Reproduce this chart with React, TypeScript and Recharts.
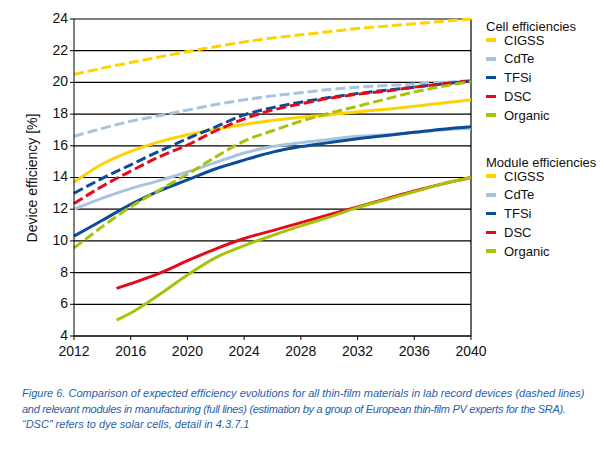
import React from 'react';
import { LineChart, Line, XAxis, YAxis, CartesianGrid, ReferenceLine } from 'recharts';

const years = [2012, 2014, 2016, 2018, 2020, 2022, 2024, 2026, 2028, 2030, 2032, 2034, 2036, 2038, 2040];
const lateYears = [2015, 2016, 2018, 2020, 2022, 2024, 2026, 2028, 2030, 2032, 2034, 2036, 2038, 2040];

// lab record cells (dashed)
const cellCIGSS = [20.5, 20.9, 21.25, 21.6, 21.95, 22.25, 22.55, 22.8, 23.0, 23.2, 23.4, 23.55, 23.7, 23.85, 24.0];
const cellCdTe = [16.6, 17.1, 17.55, 17.9, 18.25, 18.6, 18.9, 19.15, 19.35, 19.55, 19.7, 19.8, 19.9, 20.0, 20.1];
const cellTFSi = [13.0, 13.95, 14.8, 15.65, 16.45, 17.2, 17.95, 18.4, 18.75, 19.05, 19.3, 19.5, 19.7, 19.9, 20.1];
const cellDSC = [12.35, 13.45, 14.4, 15.3, 16.05, 16.95, 17.7, 18.25, 18.65, 19.0, 19.25, 19.45, 19.7, 19.9, 20.1];
const cellOrganic = [9.55, 10.9, 12.15, 13.2, 14.2, 15.3, 16.3, 16.95, 17.55, 18.05, 18.5, 18.95, 19.4, 19.75, 20.05];

// modules in manufacturing (full)
const modCIGSS = [13.7, 14.85, 15.65, 16.25, 16.7, 17.05, 17.35, 17.6, 17.8, 17.95, 18.15, 18.3, 18.5, 18.7, 18.9];
const modCdTe = [12.0, 12.7, 13.3, 13.8, 14.35, 14.95, 15.55, 15.95, 16.2, 16.4, 16.6, 16.7, 16.85, 17.0, 17.1];
const modTFSi = [10.3, 11.3, 12.3, 13.15, 13.85, 14.55, 15.1, 15.6, 15.95, 16.2, 16.45, 16.65, 16.85, 17.05, 17.2];
const modDSC = [7.0, 7.3, 7.95, 8.75, 9.5, 10.15, 10.65, 11.15, 11.65, 12.15, 12.65, 13.15, 13.6, 14.0];
const modOrganic = [5.0, 5.45, 6.6, 7.85, 8.95, 9.7, 10.35, 10.95, 11.5, 12.1, 12.6, 13.1, 13.6, 14.0];

const xTicks = [2012, 2016, 2020, 2024, 2028, 2032, 2036, 2040];
const yTicks = [4, 6, 8, 10, 12, 14, 16, 18, 20, 22, 24];

const materials = ['CIGSS', 'CdTe', 'TFSi', 'DSC', 'Organic'];
const colors = ['#FFD200', '#A6C4E0', '#0A4C95', '#E30A1C', '#A8C20A'];

const caption = [
  'Figure 6. Comparison of expected efficiency evolutions for all thin-film materials in lab record devices (dashed lines)',
  'and relevant modules in manufacturing (full lines) (estimation by a group of European thin-film PV experts for the SRA).',
  '\u201CDSC\u201D refers to dye solar cells, detail in 4.3.7.1',
];
const captionSpacing = [0, -0.3, 0];

const toRows = (xs: number[], vs: number[]) => xs.map((year, i) => ({ year, value: vs[i] }));

const cellSeries = [cellCIGSS, cellCdTe, cellTFSi, cellDSC, cellOrganic].map((v) => toRows(years, v));
const moduleSeries = [
  toRows(years, modCIGSS),
  toRows(years, modCdTe),
  toRows(years, modTFSi),
  toRows(lateYears, modDSC),
  toRows(lateYears, modOrganic),
];

const font = '"Liberation Sans", Arial, sans-serif';

const LegendBox = () => {
  const group = (title: string, top: number) => (
    <div style={{ position: 'absolute', left: 0, top }}>
      <div style={{ fontSize: 13, lineHeight: '16px', color: '#111', whiteSpace: 'nowrap' }}>{title}</div>
      {materials.map((m, i) => (
        <div key={m} style={{ position: 'absolute', top: 13 + i * 18.75, left: 0, display: 'flex', alignItems: 'center', height: 16 }}>
          <span style={{ width: 10, height: 3.5, background: colors[i], display: 'inline-block' }} />
          <span style={{ marginLeft: 8, fontSize: 13, color: '#111' }}>{m}</span>
        </div>
      ))}
    </div>
  );
  return (
    <div style={{ position: 'absolute', left: 486, top: 19, width: 120, height: 260, fontFamily: font }}>
      {group('Cell efficiencies', 0)}
      {group('Module efficiencies', 136)}
    </div>
  );
};

export default function App() {
  return (
    <div style={{ position: 'absolute', left: 0, top: 0, width: 605, height: 451, background: '#fff', fontFamily: font }}>
      <LineChart width={605} height={370} margin={{ top: 19, right: 134, left: 0, bottom: 0 }}>
        <CartesianGrid vertical={false} stroke="#000" strokeWidth={1.2} />
        <XAxis
          dataKey="year"
          type="number"
          domain={[2012, 2040]}
          ticks={xTicks}
          height={34}
          tickSize={4}
          stroke="#000"
          tick={{ fill: '#111', fontSize: 14, dy: 4 }}
          allowDuplicatedCategory={false}
        />
        <YAxis
          type="number"
          domain={[4, 24]}
          ticks={yTicks}
          width={74}
          tickSize={4}
          stroke="#000"
          tick={{ fill: '#111', fontSize: 14, dy: -1 }}
        />
        <ReferenceLine x={2040} stroke="#000" strokeWidth={1.2} />
        {moduleSeries.map((d, i) => (
          <Line
            key={'m' + i}
            data={d}
            dataKey="value"
            type="monotone"
            stroke={colors[i]}
            strokeWidth={3}
            dot={false}
            isAnimationActive={false}
          />
        ))}
        {cellSeries.map((d, i) => (
          <Line
            key={'c' + i}
            data={d}
            dataKey="value"
            type="monotone"
            stroke={colors[i]}
            strokeWidth={3}
            strokeDasharray="10 4"
            dot={false}
            isAnimationActive={false}
          />
        ))}
      </LineChart>
      <LegendBox />
      <svg style={{ position: 'absolute', left: 0, top: 0 }} width={60} height={370}>
        <text x={33} y={178} transform="rotate(-90 33 178)" textAnchor="middle" dominantBaseline="middle" fontSize={14} fill="#111" fontFamily={font}>
          Device efficiency [%]
        </text>
      </svg>
      <div style={{ position: 'absolute', left: 22, top: 386, color: '#1F5EA8', fontStyle: 'italic', fontSize: 11, lineHeight: '15.5px', whiteSpace: 'nowrap' }}>
        {caption.map((c, i) => (
          <div key={c} style={{ letterSpacing: captionSpacing[i] }}>{c}</div>
        ))}
      </div>
    </div>
  );
}
